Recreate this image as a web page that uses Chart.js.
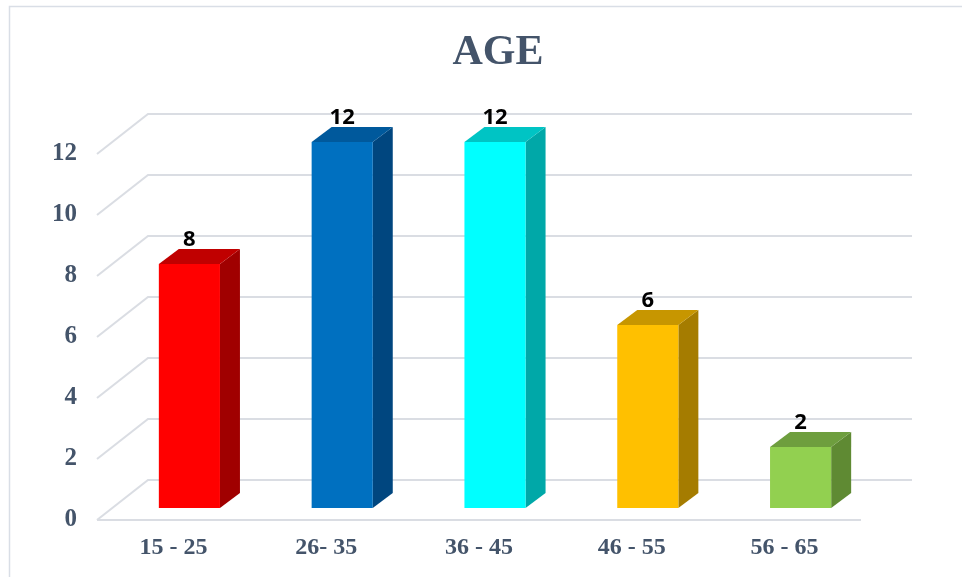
<!DOCTYPE html>
<html>
<head>
<meta charset="utf-8">
<script src="https://cdn.jsdelivr.net/npm/chart.js@4"></script>
<style>
  html, body { margin: 0; padding: 0; background: #ffffff; overflow: hidden; }
  canvas { display: block; }
</style>
</head>
<body>
<canvas id="ageChart" width="962" height="577"></canvas>
<script>
// Data
const categories = ['15 - 25', '26- 35', '36 - 45', '46 - 55', '56 - 65'];
const counts = [8, 12, 12, 6, 2];
const yMin = 0;
const yMax = 12;
const yStep = 2;

// Face colours per bar: front, right side, top
const frontColors = ['#FF0000', '#0070C0', '#00FFFF', '#FFC000', '#92D050'];
const sideColors  = ['#A00000', '#00467F', '#00A8A8', '#A57C00', '#5F8A33'];
const topColors   = ['#C00000', '#00599C', '#00C4C4', '#C79600', '#6E9E3E'];

// Oblique depth of the floor/back wall and of each box
const WALL = { dx: 51, dy: -40 };
const BAR_SHIFT = { dx: 16, dy: -12 };
const BAR_DEPTH = { dx: 20, dy: -15 };

const TEXT_COLOR = '#44546A';
const GRID_COLOR = '#DADDE3';
const SERIF = '"Liberation Serif", "Times New Roman", serif';

const frame3d = {
  id: 'frame3d',
  beforeDraw(chart) {
    const { ctx, width, height } = chart;
    ctx.save();
    ctx.fillStyle = '#ffffff';
    ctx.fillRect(0, 0, width, height);
    ctx.strokeStyle = '#D9DEE6';
    ctx.lineWidth = 1.5;
    ctx.strokeRect(9.5, 6.5, width + 20, height + 20);
    ctx.restore();
  },
  beforeDatasetsDraw(chart) {
    const { ctx, chartArea: { left, right }, scales: { y } } = chart;
    ctx.save();
    ctx.strokeStyle = GRID_COLOR;
    ctx.lineWidth = 2;
    // side wall diagonals + back wall lines
    y.ticks.forEach(t => {
      const py = y.getPixelForValue(t.value);
      ctx.beginPath();
      ctx.moveTo(left, py);
      ctx.lineTo(left + WALL.dx, py + WALL.dy);
      ctx.lineTo(right + WALL.dx, py + WALL.dy);
      ctx.stroke();
    });
    // front edge of the floor
    const p0 = y.getPixelForValue(yMin);
    ctx.beginPath();
    ctx.moveTo(left, p0);
    ctx.lineTo(right, p0);
    ctx.stroke();
    ctx.restore();
  },
  beforeDatasetDraw(chart, args) {
    const ctx = chart.ctx;
    ctx.save();
    ctx.translate(BAR_SHIFT.dx, BAR_SHIFT.dy);
    const { dx, dy } = BAR_DEPTH;
    args.meta.data.forEach((bar, i) => {
      const { x, y, base, width } = bar.getProps(['x', 'y', 'base', 'width'], true);
      const l = x - width / 2, r = x + width / 2;
      // right side face
      ctx.fillStyle = sideColors[i];
      ctx.beginPath();
      ctx.moveTo(r, y);
      ctx.lineTo(r + dx, y + dy);
      ctx.lineTo(r + dx, base + dy);
      ctx.lineTo(r, base);
      ctx.closePath();
      ctx.fill();
      // top face
      ctx.fillStyle = topColors[i];
      ctx.beginPath();
      ctx.moveTo(l, y);
      ctx.lineTo(l + dx, y + dy);
      ctx.lineTo(r + dx, y + dy);
      ctx.lineTo(r, y);
      ctx.closePath();
      ctx.fill();
    });
  },
  afterDatasetDraw(chart) {
    chart.ctx.restore();
  },
  afterDatasetsDraw(chart) {
    const ctx = chart.ctx;
    const meta = chart.getDatasetMeta(0);
    const values = chart.data.datasets[0].data;
    ctx.save();
    ctx.fillStyle = '#000000';
    ctx.font = 'bold 22px "Open Sans", sans-serif';
    ctx.textAlign = 'center';
    ctx.textBaseline = 'alphabetic';
    meta.data.forEach((bar, i) => {
      const { x, y } = bar.getProps(['x', 'y'], true);
      ctx.fillText(String(values[i]), x + BAR_SHIFT.dx, y + BAR_SHIFT.dy + BAR_DEPTH.dy - 3);
    });
    ctx.restore();
  }
};

new Chart(document.getElementById('ageChart'), {
  type: 'bar',
  data: {
    labels: categories,
    datasets: [{
      data: counts,
      backgroundColor: frontColors,
      borderWidth: 0,
      barPercentage: 0.4,
      categoryPercentage: 1.0,
      clip: false
    }]
  },
  options: {
    responsive: false,
    devicePixelRatio: 1,
    animation: false,
    layout: { padding: { left: 34, right: 0, top: 0, bottom: 0 } },
    plugins: {
      legend: { display: false },
      tooltip: { enabled: false },
      title: {
        display: true,
        text: 'AGE',
        color: TEXT_COLOR,
        font: { family: SERIF, size: 42, weight: 'bold' },
        padding: { top: 28, bottom: 75.6 }
      }
    },
    scales: {
      x: {
        grid: { display: false, drawTicks: false },
        border: { display: false },
        ticks: {
          color: TEXT_COLOR,
          padding: 13,
          font: { family: SERIF, size: 24, weight: 'bold' }
        },
        afterFit(scale) { scale.height = 57; }
      },
      y: {
        min: yMin,
        max: yMax,
        grid: { display: false, drawTicks: false },
        border: { display: false },
        ticks: {
          stepSize: yStep,
          color: TEXT_COLOR,
          padding: 20,
          font: { family: SERIF, size: 25, weight: 'bold' }
        },
        afterFit(scale) { scale.width = 63; }
      },
      yRight: {
        position: 'right',
        display: true,
        grid: { display: false, drawTicks: false },
        border: { display: false },
        ticks: { display: false },
        afterFit(scale) { scale.width = 101; }
      }
    }
  },
  plugins: [frame3d]
});
</script>
</body>
</html>
